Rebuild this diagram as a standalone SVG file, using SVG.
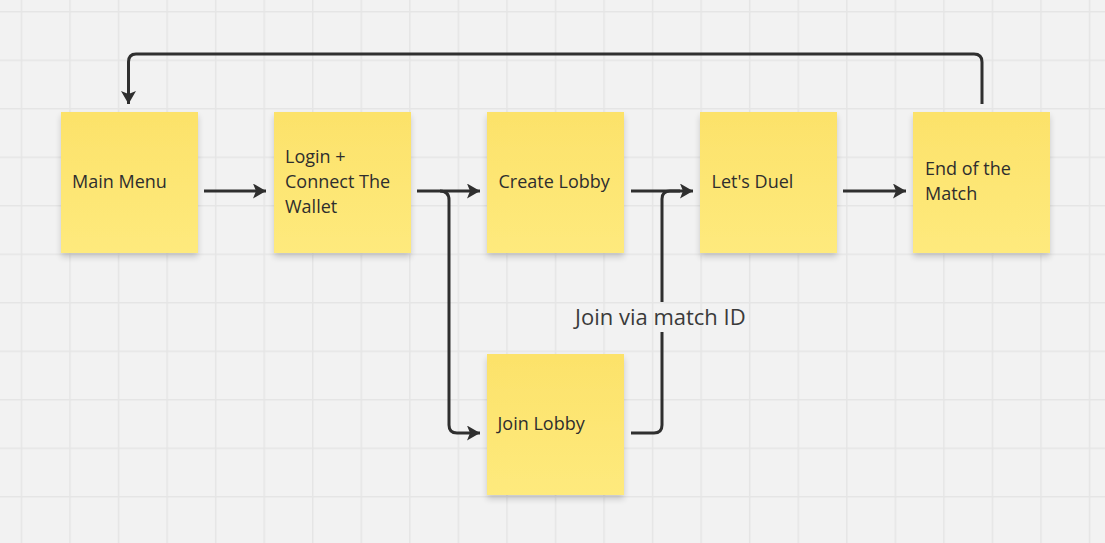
<svg xmlns="http://www.w3.org/2000/svg" width="1105" height="543" viewBox="0 0 1105 543">
  <defs>
    <pattern id="grid" x="20.7" y="11" width="48.55" height="48.5" patternUnits="userSpaceOnUse">
      <path d="M0.75,0 V48.5 M0,0.75 H48.55" fill="none" stroke="#e5e5e5" stroke-width="1.5"/>
    </pattern>
    <linearGradient id="note" x1="0" y1="0" x2="0" y2="1">
      <stop offset="0" stop-color="#fce26a"/>
      <stop offset="1" stop-color="#feea7d"/>
    </linearGradient>
    <filter id="shadow" x="-10%" y="-10%" width="120%" height="125%">
      <feGaussianBlur in="SourceAlpha" stdDeviation="3"/>
      <feOffset dx="0" dy="4" result="b"/>
      <feComponentTransfer><feFuncA type="linear" slope="0.18"/></feComponentTransfer>
      <feMerge><feMergeNode/><feMergeNode in="SourceGraphic"/></feMerge>
    </filter>
    <marker id="arrow" markerUnits="userSpaceOnUse" markerWidth="16" markerHeight="16" refX="13" refY="7.5" orient="auto" viewBox="0 0 16 16">
      <path d="M0,0 L13,7.5 L0,15 L3,7.5 z" fill="#2f2f2f"/>
    </marker>
  </defs>
  <style>
    .note rect { fill: url(#note); filter: url(#shadow); }
    .note text, .label { font-family: "Open Sans", "Noto Sans", sans-serif; fill: #2e2e2e; }
    .note text { font-size: 18px; }
    .label { font-size: 22px; fill: #3a3a3a; }
    .conn { fill: none; stroke: #2f2f2f; stroke-width: 3; stroke-linejoin: round; }
  </style>
  <rect width="1105" height="543" fill="#f2f2f2"/>
  <rect width="1105" height="543" fill="url(#grid)"/>

  <g id="connectors">
    <path class="conn" d="M204,191 H266" marker-end="url(#arrow)"/>
    <path class="conn" d="M417,191 H480" marker-end="url(#arrow)"/>
    <path class="conn" d="M440,191 Q449,191 449,200 V425 Q449,433 457,433 H480" marker-end="url(#arrow)"/>
    <path class="conn" d="M631,191 H693" marker-end="url(#arrow)"/>
    <path class="conn" d="M631,433 H654 Q662,433 662,425 V332"/>
    <path class="conn" d="M662,302 V199 Q662,191 670,191 H680"/>
    <path class="conn" d="M843,191 H906" marker-end="url(#arrow)"/>
    <path class="conn" d="M982,104 V62 Q982,54 974,54 H136 Q128.5,54 128.5,62 V104" marker-end="url(#arrow)"/>
    <text class="label" x="575" y="325">Join via match ID</text>
  </g>

  <g id="main-menu" class="note">
    <rect x="61" y="112" width="137" height="141"/>
    <text x="72" y="188">Main Menu</text>
  </g>
  <g id="login" class="note">
    <rect x="274" y="112" width="137" height="141"/>
    <text x="285" y="163">Login +</text>
    <text x="285" y="188">Connect The</text>
    <text x="285" y="213">Wallet</text>
  </g>
  <g id="create-lobby" class="note">
    <rect x="487" y="112" width="137" height="141"/>
    <text x="498.5" y="188">Create Lobby</text>
  </g>
  <g id="lets-duel" class="note">
    <rect x="700" y="112" width="137" height="141"/>
    <text x="711.5" y="188">Let's Duel</text>
  </g>
  <g id="end-of-match" class="note">
    <rect x="913" y="112" width="137" height="141"/>
    <text x="925" y="175">End of the</text>
    <text x="925" y="200">Match</text>
  </g>
  <g id="join-lobby" class="note">
    <rect x="487" y="354" width="137" height="141"/>
    <text x="497.5" y="430">Join Lobby</text>
  </g>
</svg>
